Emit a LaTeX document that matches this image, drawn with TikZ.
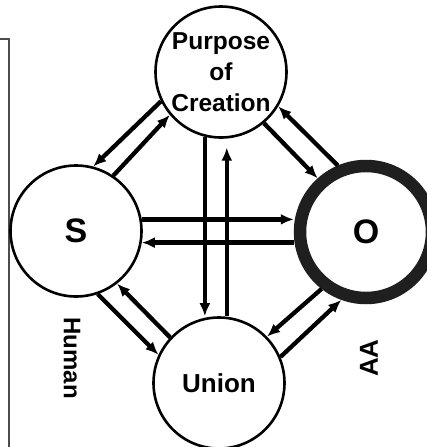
\documentclass[tikz,border=0pt]{standalone}
\usepackage{fontspec}
\setmainfont{Liberation Sans}
\usetikzlibrary{arrows.meta}
\begin{document}
\begin{tikzpicture}[x=1pt,y=-1pt,
  bubble/.style={circle, draw, line width=2.6pt, minimum size=131pt, inner sep=0pt},
  goal/.style={circle, draw=black!88, line width=12.5pt, minimum size=132pt, inner sep=0pt},
  conn/.style={line width=4.3pt, -{Latex[length=13pt,width=11pt]}},
  lbl/.style={font=\bfseries\fontsize{24.5}{31}\selectfont, align=center, inner sep=0pt},
  big/.style={font=\bfseries\fontsize{34}{40}\selectfont},
  side/.style={font=\bfseries\fontsize{24}{28}\selectfont, inner sep=0pt}]
\useasboundingbox (0,0) rectangle (426,447);
% partial frame
\draw[line width=1.3pt, black!70] (0,39) -- (9,39) -- (9,447);
% circles
\node[bubble] (P) at (221,72) {};
\node[lbl] (Ptext) at (P) {Purpose\\of\\Creation};
\node[bubble, big] (S) at (76,231) {S};
\node[goal, big] (O) at (366,232) {O};
\node[bubble, font=\bfseries\fontsize{26}{31}\selectfont] (U) at (219,383) {Union};
% connectors
\draw[conn] (P.206) -- (S.75);
\draw[conn] (S.56) -- (P.220);
\draw[conn] (O.113) -- (P.-31);
\draw[conn] (P.-50) -- (O.132);
\draw[conn] (S.10) -- (S.10 -| O.west);
\draw[conn] (S.-10 -| O.west) -- (S.-10);
\draw[conn] (P.256) -- (P.256 |- U.north);
\draw[conn, shorten >=9pt] (P.-85 |- U.north) -- (P.-85);
\draw[conn] (S.-71) -- (U.155);
\draw[conn] (U.137) -- (S.-52);
\draw[conn] (O.232) -- (U.44);
\draw[conn] (U.23) -- (O.250);
% side labels
\node[side, rotate=-90] (human) at (72,358) {Human};
\node[side, rotate=90, font=\bfseries\fontsize{26}{30}\selectfont] (aa) at (369,358) {AA};
\end{tikzpicture}
\end{document}
